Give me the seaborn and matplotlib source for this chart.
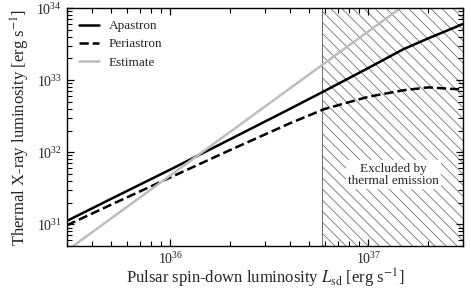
import numpy as np
import pandas as pd
import seaborn as sns
import matplotlib.pyplot as plt
from matplotlib.ticker import LogLocator, NullFormatter

# valores (log-log)
L_sd = [3e35, 5e35, 1e36, 2e36, 4e36, 6e36, 1e37, 1.5e37, 2e37, 3e37]
L_apastron = [1.11e31, 2.24e31, 5.75e31, 1.51e32, 3.98e32, 7.08e32, 1.48e33, 2.69e33, 3.80e33, 6.03e33]
L_periastron = [9.66e30, 1.86e31, 4.47e31, 1.07e32, 2.51e32, 3.98e32, 5.89e32, 7.24e32, 7.94e32, 7.41e32]
L_sd_est = [3e35, 3e37]
L_estimate = [4.3e30, 4.3e34]
L_excl = 5.8e36

sns.set_theme(style="ticks")
plt.rcParams['font.family'] = ['Liberation Serif', 'DejaVu Serif']
plt.rcParams['mathtext.fontset'] = 'stix'
plt.rcParams['hatch.linewidth'] = 0.6

df = pd.DataFrame({'L': L_sd, 'apo': L_apastron, 'peri': L_periastron})
df_est = pd.DataFrame({'L': L_sd_est, 'est': L_estimate})

fig = plt.figure(figsize=(4.71, 2.91), dpi=100)
ax = fig.add_axes([0.142, 0.155, 0.841, 0.817])

sns.lineplot(data=df, x='L', y='apo', ax=ax, color='black', lw=1.8, label='Apastron')
sns.lineplot(data=df, x='L', y='peri', ax=ax, color='black', lw=1.8, ls='--', label='Periastron')
sns.lineplot(data=df_est, x='L', y='est', ax=ax, color='#bdbdbd', lw=1.8, label='Estimate')

# region excluida
ax.axvspan(L_excl, 1e38, facecolor='none', edgecolor='0.45', hatch='\\\\\\', lw=0, zorder=0)
ax.axvline(L_excl, color='0.35', lw=0.6, zorder=1)
ax.text(1.34e37, 4.9e31, "Excluded by\nthermal emission", ha='center', va='center',
        fontsize=9.5, linespacing=1.0,
        bbox=dict(facecolor='white', edgecolor='none', pad=1.5), zorder=3)

ax.set_xscale('log')
ax.set_yscale('log')
ax.set_xlim(3e35, 3e37)
ax.set_ylim(5e30, 1e34)
for axis in (ax.xaxis, ax.yaxis):
    axis.set_major_locator(LogLocator(base=10, numticks=20))
    axis.set_minor_locator(LogLocator(base=10, subs=np.arange(2, 10) * 1.0, numticks=100))
    axis.set_minor_formatter(NullFormatter())
ax.tick_params(axis='both', which='major', direction='in', bottom=True, top=True,
               left=True, right=True, length=5, width=0.9, color='black', labelsize=10)
ax.tick_params(axis='both', which='minor', direction='in', bottom=True, top=True,
               left=True, right=True, length=3.5, width=0.8, color='black')
for s in ax.spines.values():
    s.set_linewidth(1.0)
    s.set_color('black')

ax.set_xlabel(r"Pulsar spin-down luminosity $L_{\mathrm{sd}}$ [erg s$^{-1}$]", fontsize=12, labelpad=0)
ax.set_ylabel(r"Thermal X-ray luminosity [erg s$^{-1}$]", fontsize=12, labelpad=3)

ax.legend(loc='upper left', frameon=False, fontsize=9.5, handlelength=1.5,
          handletextpad=0.8, labelspacing=0.45, borderaxespad=0.5)

plt.savefig("out.png", dpi=100)
